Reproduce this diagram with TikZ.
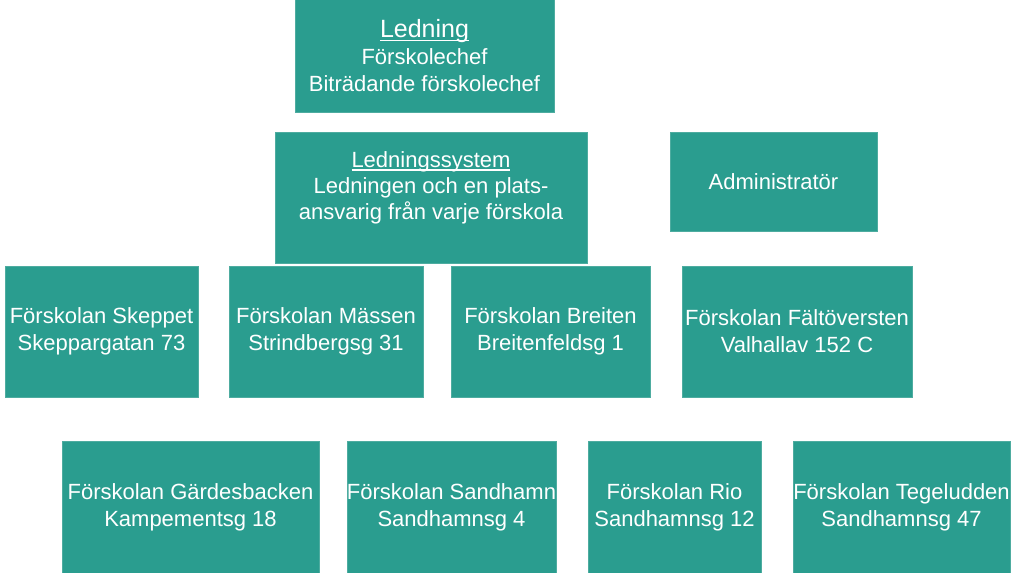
\documentclass[tikz,border=0pt]{standalone}
\usepackage{fontspec}
\setmainfont{Liberation Sans}
\newcommand{\undertext}[1]{\setbox0\hbox{#1}\rlap{\rule[-3pt]{\wd0}{1.3pt}}\box0}
\begin{document}
\begin{tikzpicture}[x=1pt, y=-1pt]
      % Color definitions
      \definecolor{boxcolor}{RGB}{42, 157, 143}
      \definecolor{edgecolor}{RGB}{78, 172, 160}

      % Styles
      \tikzset{
          orgbox/.style={fill=boxcolor, draw=edgecolor, line width=0.5pt, inner sep=0pt,
              text=white, align=center, font=\fontsize{22}{27}\selectfont},
          orgtext/.style={text=white, align=center, inner sep=0pt, font=\fontsize{22}{26}\selectfont}
      }

      % Page size
      \useasboundingbox (0,0) rectangle (1023,573);

      % Management
      \node[orgbox, minimum width=259, minimum height=113] (ledning) at (424.5,56)
          {{\fontsize{25}{28}\selectfont\undertext{Ledning}}\\Förskolechef\\Biträdande förskolechef};

      % Management system (text sits above the middle)
      \node[orgbox, minimum width=312, minimum height=131] (system) at (431,197.5) {};
      \node[orgtext] (systemtext) at ([yshift=9.5pt]system.center)
          {\undertext{Ledningssystem}\\Ledningen och en plats-\\ansvarig från varje förskola};

      % Administration
      \node[orgbox, minimum width=207, minimum height=99] (admin) at (773.5,181.5) {Administratör};

      % Preschools, first row
      \foreach \name/\cx/\w/\school/\street in {
          skeppet/101.5/193/Skeppet/Skeppargatan 73,
          maessen/326/194/Mässen/Strindbergsg 31,
          breiten/550.5/199/Breiten/Breitenfeldsg 1,
          faltoversten/797/230/Fältöversten/Valhallav 152 C
      } {
          \node[orgbox, minimum width=\w, minimum height=131] (\name) at (\cx,331.5)
              {Förskolan \school\\\street};
      }

      % Preschools, second row
      \foreach \name/\cx/\w/\school/\street in {
          gardesbacken/190.5/257/Gärdesbacken/Kampementsg 18,
          sandhamn/451.5/207/Sandhamn/Sandhamnsg 4,
          rio/674.5/173/Rio/Sandhamnsg 12,
          tegeludden/901.5/217/Tegeludden/Sandhamnsg 47
      } {
          \node[orgbox, minimum width=\w, minimum height=132] (\name) at (\cx,507)
              {Förskolan \school\\\street};
      }

\end{tikzpicture}
\end{document}
